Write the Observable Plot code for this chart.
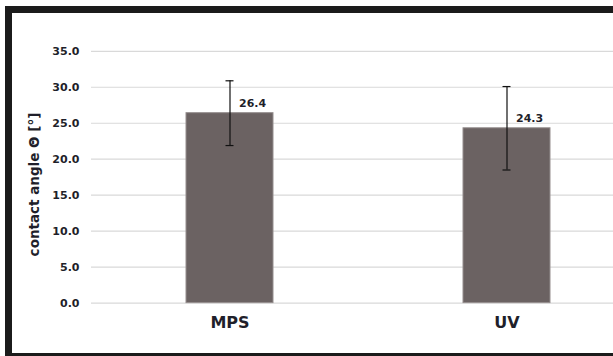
<!DOCTYPE html>
<html>
<head>
<meta charset="utf-8">
<script src="https://cdn.jsdelivr.net/npm/d3@7"></script>
<script src="https://cdn.jsdelivr.net/npm/@observablehq/plot@0.6"></script>
<style>
  html, body { margin: 0; padding: 0; background: #fff; }
  #wrap { position: relative; width: 613px; height: 356px; overflow: hidden; }
  #frame {
    position: absolute; left: 5px; top: 6px; width: 700px; height: 354px;
    box-sizing: border-box; border: 7px solid #1b1b1b; pointer-events: none;
  }
  #chart { position: absolute; left: 0; top: 0; }
</style>
</head>
<body>
<div id="wrap">
  <div id="chart"></div>
  <div id="frame"></div>
</div>
<script>
// Mean contact angle per surface treatment, with standard deviation
const categories = ["MPS", "UV"];
const means = [26.4, 24.3];
const deviations = [4.5, 5.8];
const yTicks = [0, 5, 10, 15, 20, 25, 30, 35];
const yLabel = "contact angle Θ [°]";

const rows = categories.map((c, i) => ({
  cat: c,
  mean: means[i],
  low: means[i] - deviations[i],
  high: means[i] + deviations[i]
}));

const capInset = (87 - 8) / 2;
const ink = "#1f1f2a";

const chart = Plot.plot({
  width: 613,
  height: 356,
  marginLeft: 91,
  marginRight: 0,
  marginTop: 51,
  marginBottom: 53,
  style: { fontFamily: "DejaVu Sans", fontWeight: "bold", color: ink, background: "transparent" },
  x: { domain: categories, range: [90.7, 645.8], paddingInner: 0.6865, paddingOuter: 0.3434, align: 0.5 },
  y: { domain: [0, 35], range: [302.6, 50.8] },
  marks: [
    Plot.ruleY(yTicks, { stroke: "#d9d9d9", strokeWidth: 1.2 }),
    Plot.barY(rows, { x: "cat", y: "mean", fill: "#6b6262", stroke: "#958e8e", strokeWidth: 1 }),
    Plot.ruleX(rows, { x: "cat", y1: "low", y2: "high", stroke: "#111", strokeWidth: 1.2 }),
    Plot.tickY(rows, { x: "cat", y: "high", stroke: "#111", strokeWidth: 1.2, insetLeft: capInset, insetRight: capInset }),
    Plot.tickY(rows, { x: "cat", y: "low", stroke: "#111", strokeWidth: 1.2, insetLeft: capInset, insetRight: capInset }),
    Plot.text(rows, {
      x: "cat", y: "mean", text: d => d.mean.toFixed(1),
      dx: 9, dy: -10, textAnchor: "start", lineAnchor: "middle",
      fontSize: 11, fontWeight: "bold", fill: ink
    }),
    Plot.axisY({
      ticks: yTicks, tickSize: 0, tickPadding: 12, tickFormat: d3.format(".1f"),
      fontSize: 11, label: null
    }),
    Plot.axisX({ tickSize: 0, tickPadding: 13, fontSize: 16, label: null }),
    Plot.text([yLabel], {
      frameAnchor: "left", rotate: -90, dx: -57, dy: 7,
      fontSize: 13.5, fontWeight: "bold", fill: ink, textAnchor: "middle", lineAnchor: "middle"
    })
  ]
});

document.getElementById("chart").appendChild(chart);
</script>
</body>
</html>
